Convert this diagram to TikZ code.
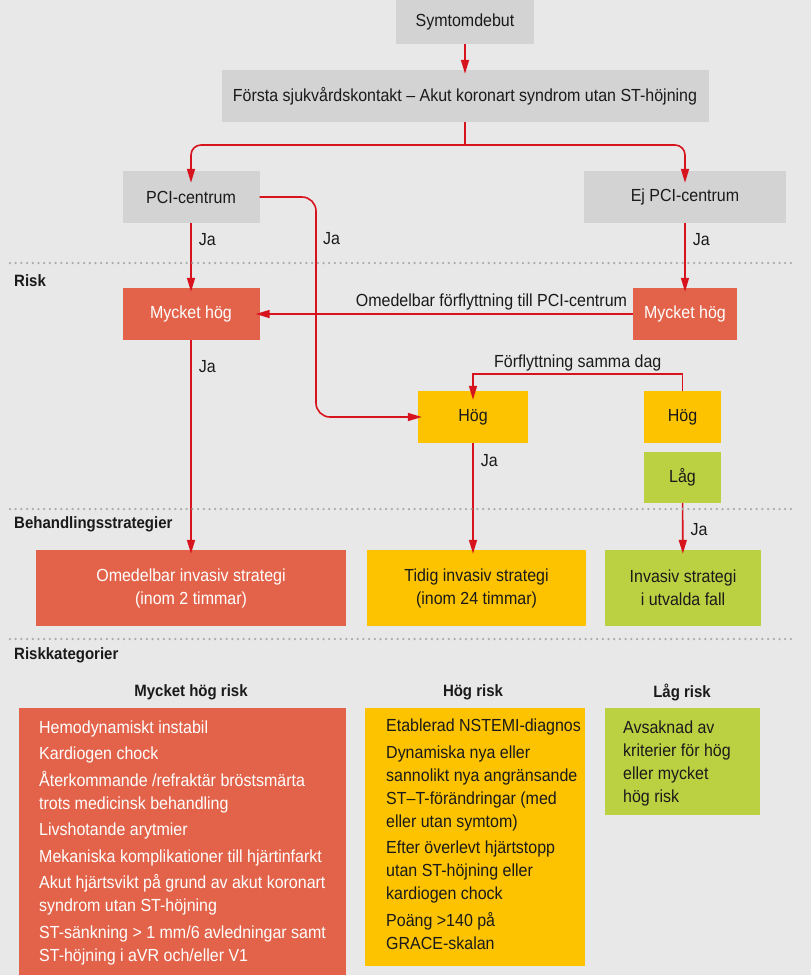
\documentclass[tikz,border=0pt]{standalone}
\usepackage{fontspec}
\setmainfont{Liberation Sans}[FakeStretch=0.914]
\usetikzlibrary{arrows.meta}

\definecolor{bggray}{HTML}{E8E8E8}
\definecolor{boxgray}{HTML}{D3D3D3}
\definecolor{riskred}{HTML}{E2634A}
\definecolor{riskyellow}{HTML}{FDC300}
\definecolor{riskgreen}{HTML}{BCD142}
\definecolor{arrowred}{HTML}{D7141E}
\definecolor{dotgray}{HTML}{A9A9A9}
\definecolor{ink}{HTML}{1A1A1A}

\newcommand\flowfont{\fontsize{17.5}{23}\selectfont}
\newcommand\headfont{\fontsize{16.4}{20}\selectfont\bfseries}

\begin{document}
\begin{tikzpicture}
[x=1pt,y=-1pt,>={Triangle[length=14pt,width=8pt]},
 every node/.style={font=\flowfont,text=ink},
 flowbox/.style={rectangle,inner sep=0pt,align=center,fill=boxgray},
 redbox/.style={flowbox,fill=riskred,text=white},
 yellowbox/.style={flowbox,fill=riskyellow},
 greenbox/.style={flowbox,fill=riskgreen},
 flowline/.style={draw=arrowred,line width=1.6pt},
 flow/.style={flowline,->,shorten >=-4pt},
 ja/.style={right,inner xsep=7pt},
 sectlbl/.style={anchor=west,inner sep=0pt,font=\headfont},
 coltitle/.style={inner sep=0pt,font=\headfont},
 listtext/.style={anchor=north west,align=left,inner sep=0pt},
 divider/.style={draw=dotgray,line width=2.5pt,line cap=round,dash pattern=on 0pt off 5.7pt}]

  \fill[bggray] (0,0) rectangle (811,975);

  % flow nodes
  \node[flowbox,minimum width=138pt,minimum height=44pt] (sym) at (465,22) {Symtomdebut};
  \node[flowbox,minimum width=487pt,minimum height=52pt] (first) at (465,96) {Första sjukvårdskontakt -- Akut koronart syndrom utan ST-höjning};
  \node[flowbox,minimum width=137pt,minimum height=52pt] (pci) at (191,197) {PCI-centrum};
  \node[flowbox,minimum width=202pt,minimum height=52pt] (ejpci) at (685,197) {Ej PCI-centrum};

  \node[redbox,minimum width=137pt,minimum height=52pt] (mhl) at (191,314) {Mycket hög};
  \node[redbox,minimum width=104pt,minimum height=52pt] (mhr) at (685,314) {Mycket hög};
  \node[yellowbox,minimum width=110pt,minimum height=52pt] (hogm) at (473,417) {Hög};
  \node[yellowbox,minimum width=77pt,minimum height=52pt] (hogr) at (682.5,417) {Hög};
  \node[greenbox,minimum width=77pt,minimum height=51pt] (lag) at (682.5,477.5) {Låg};

  \node[redbox,minimum width=310pt,minimum height=76pt] (strat1) at (191,588) {Omedelbar invasiv strategi\\(inom 2 timmar)};
  \node[yellowbox,minimum width=219pt,minimum height=76pt] (strat2) at (476.5,588) {Tidig invasiv strategi\\(inom 24 timmar)};
  \node[greenbox,minimum width=156pt,minimum height=76pt] (strat3) at (683,588) {Invasiv strategi\\i utvalda fall};

  % connectors
  \coordinate (split) at (465,145);
  \coordinate (pcibend) at (316,197);
  \coordinate (sameday) at (682.5,374);

  \draw[flow] (sym) -- (first);
  \draw[flow,rounded corners=10pt,shorten >=-12pt] (split) -| (pci);
  \draw[flow,rounded corners=10pt,shorten >=-12pt] (split) -| (ejpci);
  \draw[flowline] (first.south) -- (split);
  \draw[flow] (pci) -- node[ja,pos=.25] {Ja} (mhl);
  \draw[flow,rounded corners=14pt] (pci) -- (pcibend) |- (hogm);
  \node[ja] (pcija) at (316,239) {Ja};
  \draw[flow] (ejpci) -- node[ja,pos=.25] {Ja} (mhr);
  \draw[flow] (mhr) -- node[pos=0,anchor=south east,inner sep=3pt,xshift=-2pt] {Omedelbar förflyttning till PCI-centrum} (mhl);
  \draw[flow] (mhl) -- node[ja,pos=.124] {Ja} (strat1);
  \draw[flow,shorten >=-9pt] (hogr) -- (sameday) -| node[pos=.25,above,inner sep=2pt] {Förflyttning samma dag} (hogm);
  \draw[flow] (hogm.south) -- node[ja,pos=.16] {Ja} (hogm.south |- strat2.north);
  \draw[flow] (lag) -- node[ja,pos=.57] {Ja} (strat3);

  % sections
  \foreach \y in {263,509,639}
    \draw[divider] (10,\y) -- (794,\y);
  \node[sectlbl] (risklbl) at (14,281) {Risk};
  \node[sectlbl] (stratlbl) at (14,524) {Behandlingsstrategier};
  \node[sectlbl] (catlbl) at (14,655) {Riskkategorier};

  % risk categories
  \node[coltitle] (vhtitle) at (191,692) {Mycket hög risk};
  \node[coltitle] (htitle) at (473,692) {Hög risk};
  \node[coltitle] (ltitle) at (682,692) {Låg risk};

  \fill[riskred] (19,708) rectangle (346,975);
  \fill[riskyellow] (365,708) rectangle (585,966);
  \fill[riskgreen] (605,708) rectangle (760,815);

  \node[listtext,text=white] (vhlist) at (39,720.5) {Hemodynamiskt instabil\\[3.5pt]
    Kardiogen chock\\[3.5pt]
    Återkommande /refraktär bröstsmärta\\trots medicinsk behandling\\[3.5pt]
    Livshotande arytmier\\[3.5pt]
    Mekaniska komplikationer till hjärtinfarkt\\[3.5pt]
    Akut hjärtsvikt på grund av akut koronart\\syndrom utan ST-höjning\\[3.5pt]
    ST-sänkning > 1 mm/6 avledningar samt\\ST-höjning i aVR och/eller V1};
  \node[listtext] (hlist) at (386,719) {Etablerad NSTEMI-diagnos\\[3.5pt]
    Dynamiska nya eller\\sannolikt nya angränsande\\ST--T-förändringar (med\\eller utan symtom)\\[3.5pt]
    Efter överlevt hjärtstopp\\utan ST-höjning eller\\kardiogen chock\\[3.5pt]
    Poäng >140 på\\GRACE-skalan};
  \node[listtext] (llist) at (623,720.5) {Avsaknad av\\kriterier för hög\\eller mycket\\hög risk};

\end{tikzpicture}
\end{document}
